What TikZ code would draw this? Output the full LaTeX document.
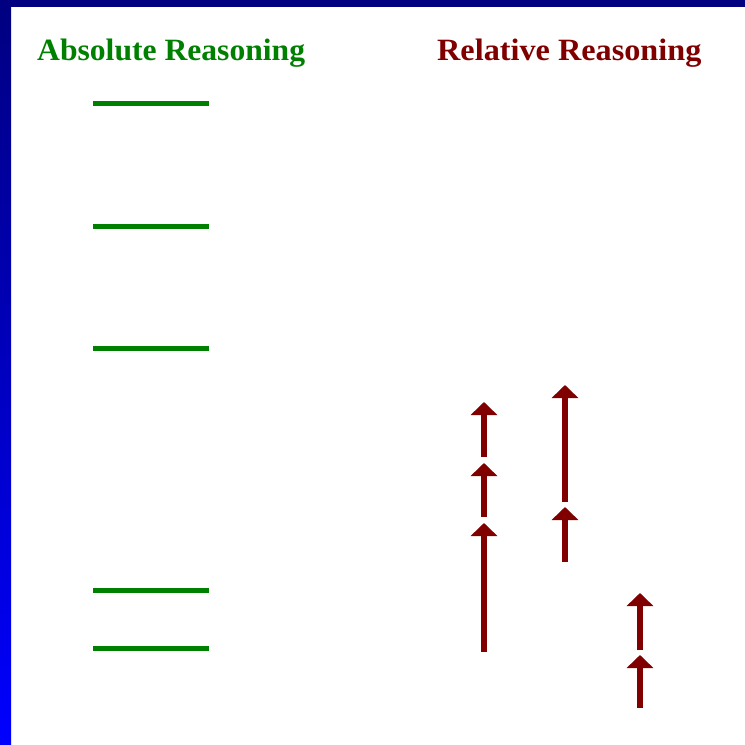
\documentclass[tikz,border=0pt]{standalone}
\usepackage{fontspec}
\setmainfont{Liberation Serif}
\usetikzlibrary{arrows.meta}
\definecolor{absgreen}{HTML}{008000}
\definecolor{relred}{HTML}{800000}
\definecolor{navyb}{HTML}{000080}
\definecolor{brightb}{HTML}{0000FF}
\tikzset{
  level/.style={draw=absgreen, line width=5pt},
  rarrow/.style={draw=relred, line width=6pt, -{Triangle[width=26pt,length=13pt]}},
  title/.style={font=\fontsize{31}{31}\selectfont\bfseries, anchor=base west, inner sep=0pt}
}
\begin{document}
\begin{tikzpicture}[x=1pt,y=-1pt]
\useasboundingbox (0,0) rectangle (745,745);
\fill[white] (0,0) rectangle (745,745);
\shade[top color=navyb, bottom color=brightb] (0,0) rectangle (11,745);
\fill[navyb] (0,0) rectangle (745,7);
\node[title, text=absgreen, xscale=1.02] (abs) at (37,60) {Absolute Reasoning};
\node[title, text=relred, xscale=1.04] (rel) at (437,60) {Relative Reasoning};
% absolute levels
\foreach \n/\y in {a/103,b/226,c/348,d/590,e/648}{
  \coordinate (l\n) at (93,\y);
  \coordinate (r\n) at (209,\y);
  \draw[level] (l\n) -- (r\n);
}
% relative arrows
\coordinate (p1) at (484,652);
\coordinate (p2) at (484,517);
\coordinate (p3) at (484,457);
\coordinate (p4) at (484,402);
\coordinate (q1) at (565,562);
\coordinate (q2) at (565,502);
\coordinate (q3) at (565,385);
\coordinate (s1) at (640,708);
\coordinate (s2) at (640,650);
\coordinate (s3) at (640,593);
\coordinate (p2t) at (484,523);
\coordinate (p3t) at (484,463);
\coordinate (q2t) at (565,507);
\coordinate (s2t) at (640,655);
\draw[rarrow] (p1) -- (p2t);
\draw[rarrow] (p2) -- (p3t);
\draw[rarrow] (p3) -- (p4);
\draw[rarrow] (q1) -- (q2t);
\draw[rarrow] (q2) -- (q3);
\draw[rarrow] (s1) -- (s2t);
\draw[rarrow] (s2) -- (s3);
\end{tikzpicture}
\end{document}
